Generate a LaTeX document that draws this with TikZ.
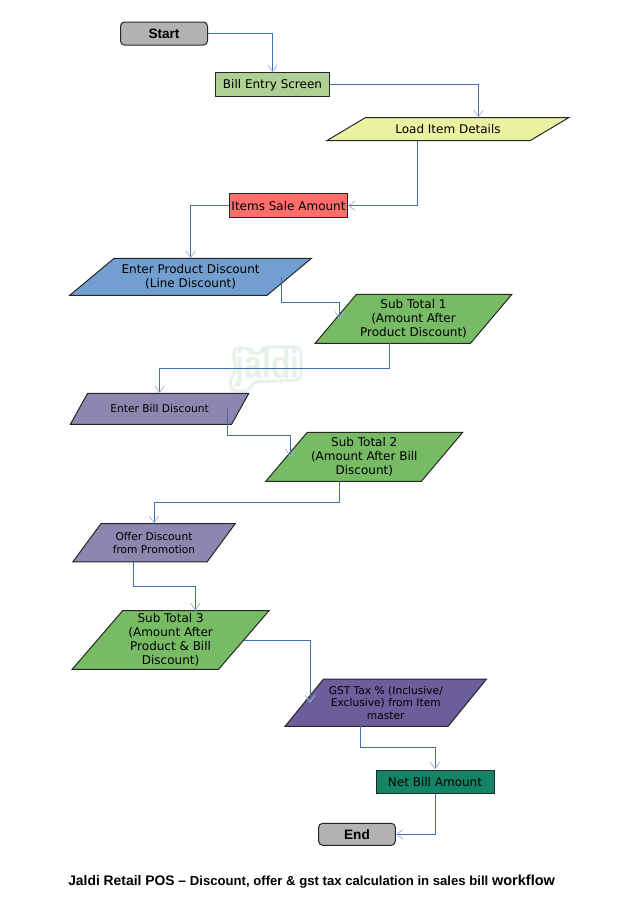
\documentclass[tikz,border=0pt]{standalone}
\usepackage{fontspec}
\setmainfont{DejaVu Sans}
\newfontfamily\lib{Liberation Sans}
\usetikzlibrary{shapes.geometric,arrows.meta,calc}
\definecolor{linec}{HTML}{3F6FB0}
\definecolor{tipc}{HTML}{9DB8DC}
\definecolor{termc}{HTML}{B2B2B2}
\definecolor{afd}{HTML}{AFD095}
\definecolor{yel}{HTML}{E8F2A1}
\definecolor{redc}{HTML}{FF6D6D}
\definecolor{bluec}{HTML}{729FCF}
\definecolor{gr}{HTML}{77BC65}
\definecolor{pur}{HTML}{8E86AE}
\definecolor{dpur}{HTML}{6B5E9B}
\definecolor{tealc}{HTML}{158466}
\definecolor{wmc}{HTML}{E6F2E8}
% name, full width, height, slant offset (pixels)
\newcommand{\sidepts}[4]{%
  \coordinate (#1C) at ($(#1.center)+(0,{-#3/2})$);
  \coordinate (#1T) at ($(#1.center)+({#4/2},{-#3/2})$);
  \coordinate (#1B) at ($(#1.center)+({-#4/2},{#3/2})$);
  \coordinate (#1L) at ($(#1.center)+({-(#2-#4)/2},0)$);
  \coordinate (#1R) at ($(#1.center)+({(#2-#4)/2},0)$);}
\tikzset{
  x=0.75pt,y=-0.75pt,
  boxbase/.style={draw=black!85,line width=0.75pt,inner sep=0pt,align=center,font=\fontsize{9}{10.5}\selectfont},
  proc/.style={boxbase,rectangle,minimum width=#1*0.75pt,minimum height=23.5*0.75pt},
  term/.style={boxbase,rectangle,rounded corners=3pt,fill=termc,font=\lib\bfseries\fontsize{10.2}{12}\selectfont},
  para/.style n args={3}{boxbase,trapezium,trapezium stretches=true,trapezium left angle=#3,trapezium right angle=180-#3,minimum width=#1*0.75pt,minimum height=#2*0.75pt},
  small/.style={font=\fontsize{8}{9.4}\selectfont},
  conn/.style={draw=linec,line width=0.6pt,-{Straight Barb[length=5pt,width=7pt,color=tipc,line width=0.6pt]}},
}
\begin{document}
\begin{tikzpicture}
\useasboundingbox (0,0) rectangle (628,914);
\draw[wmc,line width=2.2pt,rounded corners=4pt,line join=round] (233,348) -- (250,348) -- (252,354) -- (262,354) -- (262,347) -- (301,347) -- (301,380) -- (252,382) -- (250,391) -- (231,391) -- (230,378) -- (236,372) -- cycle;
\node[font=\lib\bfseries\fontsize{30}{30}\selectfont,text=wmc,xscale=0.8,anchor=base,inner sep=0pt] (wm) at (267.5,378) {jaldi};
\node[term,minimum width=87*0.75pt,minimum height=23*0.75pt] (start) at (164,33.5) {Start};
\node[proc=114,fill=afd] (bill) at (272.5,84.7) {Bill Entry Screen};
\node[para={242}{23}{20.66},fill=yel] (load) at (448,129) {Load Item Details}; \sidepts{load}{242}{23}{61}
\node[proc=118,fill=redc] (items) at (288.5,205.7) {Items Sale Amount};
\node[para={242}{37}{31.66},fill=bluec] (prod) at (190.6,276.8) {Enter Product Discount\\(Line Discount)}; \sidepts{prod}{242}{37}{60}
\node[para={197}{49}{45},fill=gr] (st1) at (413.5,318.8) {Sub Total 1\\(Amount After\\Product Discount)}; \sidepts{st1}{197}{49}{49}
\node[para={179}{31}{35},fill=pur,small] (ebill) at (159.6,408.8) {Enter Bill Discount}; \sidepts{ebill}{179}{31}{44.3}
\node[para={197}{49}{45},fill=gr] (st2) at (364.3,456.8) {Sub Total 2\\(Amount After Bill\\Discount)}; \sidepts{st2}{197}{49}{49}
\node[para={163.4}{38.3}{43.5},fill=pur,small] (offer) at (154,542.8) {Offer Discount\\from Promotion}; \sidepts{offer}{163.4}{38.3}{40.4}
\node[para={197}{58.6}{49.9},fill=gr] (st3) at (170.6,640) {Sub Total 3\\(Amount After\\Product \& Bill\\Discount)}; \sidepts{st3}{197}{58.6}{49.4}
\node[para={201.7}{47.3}{43.4},fill=dpur,small] (gst) at (385.8,702.7) {GST Tax \% (Inclusive/\\Exclusive) from Item\\master}; \sidepts{gst}{201.7}{47.3}{50}
\node[proc=118,fill=tealc] (net) at (435,781.8) {Net Bill Amount};
\node[term,minimum width=76.6*0.75pt,minimum height=22*0.75pt] (end) at (357,834.3) {End};
\node[font=\lib\bfseries,anchor=base west,inner sep=0pt] (title) at (68,885.5) {{\fontsize{10.4}{12}\selectfont Jaldi Retail POS –} \fontsize{9.85}{12}\selectfont Discount, offer \& gst tax calculation in sales bill {\fontsize{10.9}{12}\selectfont workflow}};
\draw[conn] (start.east) -| (bill.north);
\draw[conn] (bill.east) -| (loadT);
\draw[conn] (loadB) |- (items.east);
\draw[conn] (items.west) -| (prodC);
\draw[conn] (prodR) |- ($(st1L)+(0,-16.5)$) -- (st1L);
\draw[conn] (st1B) |- ($(ebillC)+(0,-24.8)$) -- (ebillC);
\draw[conn] (ebillR) |- ($(st2L)+(0,-21.8)$) -- (st2L);
\draw[conn] (st2B) |- ($(offerC)+(0,-21)$) -- (offerC);
\draw[conn] (offerB) |- ($(st3T)+(0,-24.7)$) -- (st3T);
\draw[conn] (st3R) -| (gstL);
\draw[conn] (gstB) |- ($(net.north)+(0,-21.7)$) -- (net.north);
\draw[conn] (net.south) |- (end.east);
\end{tikzpicture}
\end{document}
